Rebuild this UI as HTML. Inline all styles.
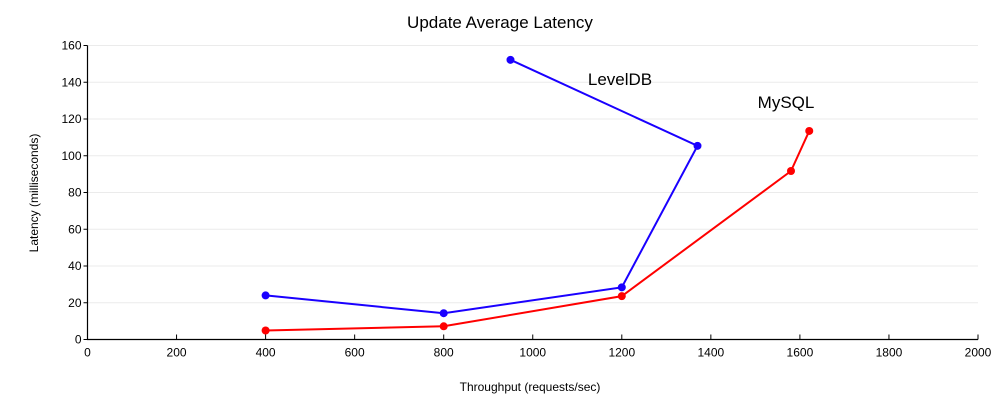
<!DOCTYPE html>
<html><head><meta charset="utf-8"><style>
html,body{margin:0;padding:0;background:#fff;}
svg{display:block;font-family:"Liberation Sans","DejaVu Sans",sans-serif;}
</style></head><body>
<svg id="chart" width="1000" height="400">
<text x="500" y="28" text-anchor="middle" font-size="17">Update Average Latency</text>
<text x="530" y="391" text-anchor="middle" font-size="12">Throughput (requests/sec)</text>
<text transform="translate(38,193) rotate(-90)" text-anchor="middle" font-size="12">Latency (milliseconds)</text>
<g id="grid"></g><g id="axes"></g><g id="series"></g>
<text x="620" y="85" text-anchor="middle" font-size="17">LevelDB</text>
<text x="786" y="108" text-anchor="middle" font-size="17">MySQL</text>
</svg>
<script>
const xTicks=[0,200,400,600,800,1000,1200,1400,1600,1800,2000];
const yTicks=[0,20,40,60,80,100,120,140,160];
const levelX=[400,800,1200,1370,950];
const levelY=[24,14.3,28.4,105.4,152.2];
const mysqlX=[400,800,1200,1580,1621];
const mysqlY=[4.9,7.2,23.6,91.7,113.5];
const X0=87.5,X1=978,Y0=339.5,Y1=45.5;
const sx=v=>X0+(v-0)/(2000)*(X1-X0);
const sy=v=>Y0-(v/160)*(Y0-Y1);
const NS="http://www.w3.org/2000/svg";
function mk(tag,attrs,parent){const e=document.createElementNS(NS,tag);for(const k in attrs)e.setAttribute(k,attrs[k]);parent.appendChild(e);return e;}
const grid=document.getElementById('grid'),axes=document.getElementById('axes'),ser=document.getElementById('series');
yTicks.forEach(t=>{
 if(t>0){const g=mk('line',{x1:X0,x2:X1,y1:sy(t),y2:sy(t),stroke:'#ebebeb','stroke-width':1},grid);
 
 }
 const tk=mk('line',{x1:X0-4,x2:X0,y1:sy(t),y2:sy(t),stroke:'#000'},axes);
 
 
 const l=mk('text',{x:X0-6,y:sy(t)+4,'text-anchor':'end','font-size':12},axes);l.textContent=t;
 
 
});
xTicks.forEach(t=>{
 const tk=mk('line',{x1:sx(t),x2:sx(t),y1:Y0,y2:Y0-5,stroke:'#000'},axes);
 
 
 const l=mk('text',{x:sx(t),y:Y0+17,'text-anchor':'middle','font-size':12},axes);l.textContent=t;
 
 
});
const ax=mk('path',{d:`M${X0},${Y1} V${Y0} H${X1}`,fill:'none',stroke:'#000','stroke-width':1.2},axes);


function draw(xs,ys,color,name){
 const pts=xs.map((x,i)=>sx(x)+','+sy(ys[i])).join(' ');
 const pl=mk('polyline',{points:pts,fill:'none',stroke:color,'stroke-width':2},ser);
 
 
 xs.forEach((x,i)=>{const c=mk('circle',{cx:sx(x),cy:sy(ys[i]),r:4,fill:color},ser);
 
 });
}
draw(levelX,levelY,'#1a00ff','leveldb');
draw(mysqlX,mysqlY,'#ff0000','mysql');
</script>
</body></html>
